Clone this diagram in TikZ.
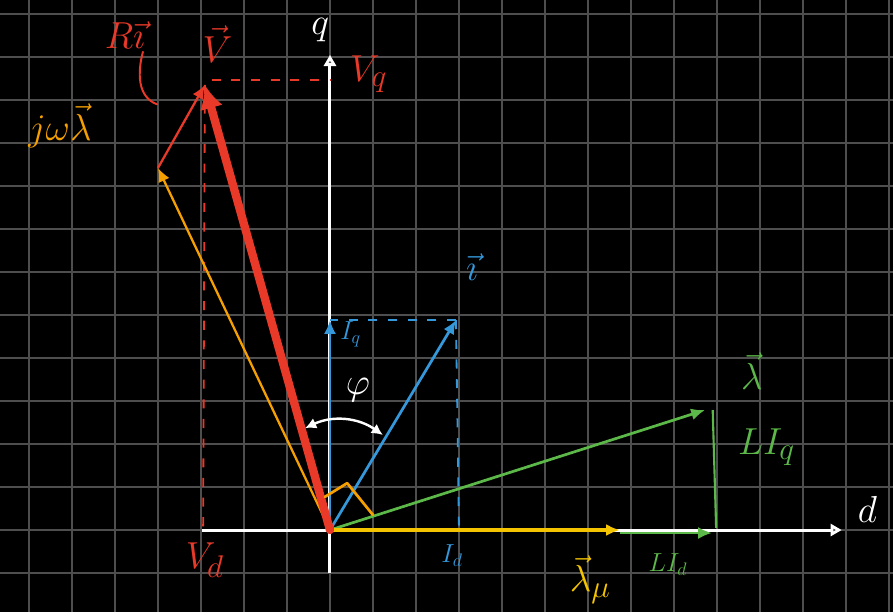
\documentclass[tikz,border=0pt]{standalone}
\usepackage{amsmath}
\usepackage{tikz}
\usetikzlibrary{
    arrows.meta,
    positioning,
    calc
}
\definecolor{vred}{RGB}{232,57,41}
\definecolor{vorange}{RGB}{245,160,0}
\definecolor{vblue}{RGB}{52,152,219}
\definecolor{vgreen}{RGB}{92,184,72}
\definecolor{vyellow}{RGB}{245,196,0}
\definecolor{gridgray}{RGB}{78,78,78}
\tikzset{
    gridline/.style={
        draw=gridgray,
        line width=0.8pt
    },
    axisline/.style={
        draw=white,
        line width=2pt,
        -{Triangle[open,length=2.6mm,width=2.8mm]}
    },
    vecline/.style={
        line width=1.8pt,
        -{Latex[length=3.2mm,width=2.8mm]}
    },
    projline/.style={
        line width=1.2pt,
        dash pattern=on 6pt off 7pt
    },
    labbig/.style={
        font=\Huge,
        inner sep=1pt
    },
    lab/.style={
        font=\LARGE,
        inner sep=1pt
    }
}

\begin{document}
\begin{tikzpicture}[
    x=1cm, y=1cm,
    thickvec/.style={
        draw=vred,
        line width=5.5pt,
        line cap=round,
        -{Latex[length=5.5mm,width=5.5mm]}
    },
    marker/.style={
        draw=vorange,
        line width=1.8pt,
        line join=round,
        line cap=round
    },
    anglearrow/.style={
        draw=white,
        line width=1.6pt,
        {Latex[length=2.6mm,width=2.6mm]}-{Latex[length=2.6mm,width=2.6mm]}
    }
]

\fill[black] (-7.674,-1.907) rectangle (13.093,12.326);
\useasboundingbox (-7.674,-1.907) rectangle (13.093,12.326);
\draw[gridline] (-7.674,-1.907) grid (13.093,12.326);

\coordinate (O) at (0,0);
\coordinate (dstart) at (-2.98,0);
\coordinate (dend) at (11.9,0);
\coordinate (qstart) at (0,-1);
\coordinate (qend) at (0,11.05);
\coordinate (Vtip) at (-2.91,10.35);
\coordinate (Vdfoot) at (-2.95,0);
\coordinate (Vqfoot) at (0,10.47);
\coordinate (Vqstart) at (-2.75,10.47);
\coordinate (jwtip) at (-4.0,8.42);
\coordinate (itip) at (2.93,4.88);
\coordinate (iqtip) at (0,4.88);
\coordinate (idfoot) at (3.0,0);
\coordinate (ltip) at (8.72,2.79);
\coordinate (lmutip) at (6.74,0);
\coordinate (lidstart) at (6.74,-0.07);
\coordinate (lidtip) at (8.88,-0.07);
\coordinate (liqtop) at (8.9,2.79);
\coordinate (liqfoot) at (8.98,0.05);
\coordinate (phiA) at (-0.58,2.37);
\coordinate (phiB) at (1.23,2.21);
\coordinate (ptrA) at (-4.35,11.12);
\coordinate (ptrB) at (-4.02,9.9);

\draw[axisline] (dstart) -- (dend);
\draw[axisline] (qstart) -- (qend);

\draw[projline, vred] (Vtip) -- (Vdfoot);
\draw[projline, vred] (Vqstart) -- (Vqfoot);
\draw[projline, vblue] (itip) -- (iqtip);
\draw[projline, vblue] (itip) -- (idfoot);

\draw[vgreen, line width=1.4pt] (liqtop) -- (liqfoot);
\draw[vecline, vgreen, line width=1.6pt] (lidstart) -- (lidtip);
\draw[vecline, vgreen] (O) -- (ltip);
\draw[vecline, vyellow, line width=2.4pt] (O) -- (lmutip);
\draw[vecline, vblue, line width=1.4pt] (O) -- (iqtip);
\draw[vecline, vblue] (O) -- (itip);
\draw[vecline, vorange, line width=1.5pt] (O) -- (jwtip);
\draw[vecline, vred, line width=1.5pt] (jwtip) -- (Vtip);
\draw[thickvec] (O) -- (Vtip);

\draw[marker] (-0.12,0.77) -- (0.40,1.09) -- (1.0,0.35);
\draw[anglearrow] (phiA) to[bend left=30] (phiB);
\draw[vred, line width=1.3pt, line cap=round] (ptrA) to[out=255, in=160] (ptrB);

\node[labbig, text=white] (qlab) at (-0.23,11.63) {$q$};
\node[labbig, text=white] (dlab) at (12.5,0.47) {$d$};
\node[labbig, text=vred] (Vlab) at (-2.62,11.3) {$\vec{V}$};
\node[labbig, text=vred] (Rilab) at (-4.77,11.5) {$R\vec{\imath}$};
\node[labbig, text=vorange] (jwlab) at (-6.28,9.4) {$j\omega\vec{\lambda}$};
\node[labbig, text=vred] (Vqlab) at (0.9,10.6) {$V_q$};
\node[labbig, text=vred] (Vdlab) at (-2.91,-0.70) {$V_d$};
\node[labbig, text=vblue] (ilab) at (3.30,6.12) {$\vec{\imath}$};
\node[lab, text=vblue] (Iqlab) at (0.48,4.55) {$I_q$};
\node[lab, text=vblue] (Idlab) at (2.84,-0.6) {$I_d$};
\node[labbig, text=vgreen] (llab) at (9.81,3.7) {$\vec{\lambda}$};
\node[labbig, text=vgreen] (Liqlab) at (10.15,1.93) {$L I_q$};
\node[lab, text=vgreen] (Lidlab) at (7.86,-0.8) {$L I_d$};
\node[labbig, text=vyellow] (lmulab) at (6.05,-1.15) {$\vec{\lambda}_{\mu}$};
\node[labbig, text=white] (philab) at (0.65,3.26) {$\varphi$};

\end{tikzpicture}
\end{document}
